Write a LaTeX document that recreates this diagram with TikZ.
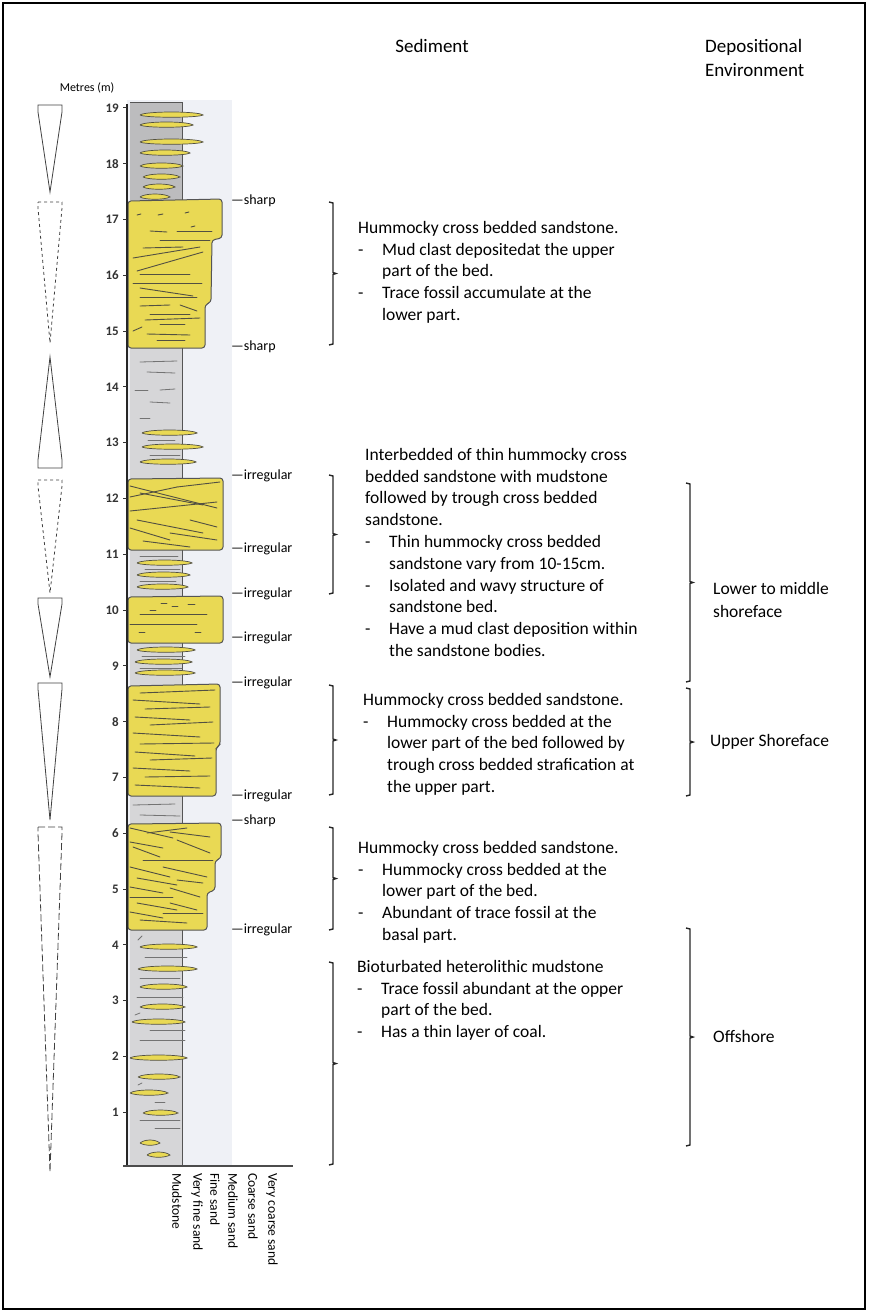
\documentclass[tikz,border=0pt]{standalone}
\usepackage{fontspec}
\setmainfont{Carlito}
\definecolor{sand}{RGB}{233,217,84}
\definecolor{mud}{RGB}{214,214,216}
\definecolor{pale}{RGB}{239,241,246}
\definecolor{rim}{RGB}{85,85,85}
\definecolor{streak}{RGB}{82,80,66}
\newcommand{\bul}{\makebox[24pt][l]{-}}
\newcommand{\ind}{\hspace*{24pt}}

\begin{document}
\begin{tikzpicture}[x=1pt,y=-1pt,
            sandbed/.style={fill=sand, draw=rim, line width=1pt, rounded corners=3pt},
            lamina/.style={draw=streak, line width=0.9pt, line cap=round},
            mudline/.style={draw=black!55, line width=0.8pt, line cap=round},
            lens/.style={fill=sand, draw=streak, line width=0.7pt},
            trend/.style={draw=black!75, line width=0.8pt},
            sidebrace/.style={draw=black!85, line width=1.4pt},
            depthlabel/.style={anchor=east, inner sep=0pt, text=black!80, font=\fontsize{13}{15}\bfseries\selectfont},
            boundlabel/.style={anchor=west, inner sep=0pt, font=\fontsize{14}{16}\selectfont},
            grainlabel/.style={anchor=west, rotate=-90, inner sep=0pt, font=\fontsize{13.5}{16}\selectfont},
            desc/.style={anchor=north west, align=left, inner sep=0pt, font=\fontsize{17.5}{21.8}\selectfont},
            envlabel/.style={anchor=west, align=left, inner sep=0pt, font=\fontsize{17.5}{22.5}\selectfont}
        ]
        \useasboundingbox (0,0) rectangle (868,1312);
        \draw[line width=2pt] (3,3) rectangle (865,1309);

        % headings
        \node[font=\fontsize{19}{24}\selectfont] (sedhead) at (432,46) {Sediment};
        \node[anchor=north west, align=left, inner sep=0pt, font=\fontsize{19}{24}\selectfont] (envhead) at (705,39) {Depositional\\Environment};
        \node[font=\fontsize{12}{14}\selectfont] (metres) at (87,88) {Metres (m)};

        % grain size background and mudstone column
        \fill[pale] (127,100) rectangle (232,1166);
        \fill[mud] (130,102) rectangle (182,1166);
        \fill[mud!88!black] (130,102) rectangle (182,200);
        \draw[rim, line width=0.8pt] (130,102) -- (182,102) -- (182,1166);

        % mud laminae
        \foreach \a/\p/\b/\q in {140/362/177/361, 147/372/175/373, 135/390/148/390, 160/390/175/389,
                150/402/170/403, 140/418/150/418, 148/440/175/440, 150/455/180/455,
                140/556/178/556, 145/569/180/569, 140/581/176/581, 142/656/185/656, 140/668/182/668,
                133/805/175/804, 140/815/180/816, 145/957/187/957, 140/978/180/978, 137/997/183/997,
                150/1030/185/1030, 140/1040/185/1040, 155/1102/165/1102, 140/1120/180/1120,
                155/1128/180/1128, 138/940/142/936, 135/1015/140/1013, 138/1085/142/1083}
            \draw[mudline] (\a,\p) -- (\b,\q);

        % thin sandstone lenses
        \foreach \y/\a/\b in {115/140/203, 125/140/193, 142/140/203, 153/140/190, 166/140/183,
                177/143/180, 187/143/175, 197/140/170, 433/142/197, 447/142/203, 462/140/196,
                563/137/192, 575/137/190, 587/137/188, 650/137/195, 662/135/192, 673/135/195,
                947/140/197, 969/138/197, 987/140/187, 1007/140/185, 1022/132/185, 1058/130/187,
                1077/138/180, 1093/130/168, 1113/143/178, 1143/140/160, 1155/147/170}
            \draw[lens] (\a,\y) .. controls (\a+5,\y-4) and (\b-5,\y-4) .. (\b,\y)
                .. controls (\b-5,\y+3) and (\a+5,\y+3) .. (\a,\y);

        % sandstone beds
        \draw[sandbed] (128,201) -- (222,199) -- (222,238) -- (212,240) -- (211,302) -- (205,305) -- (205,348) -- (128,348) -- cycle;
        \draw[sandbed] (128,479) -- (223,478) -- (223,550) -- (128,550) -- cycle;
        \draw[sandbed] (128,597) -- (223,596) -- (223,643) -- (128,643) -- cycle;
        \draw[sandbed] (128,686) -- (220,684) -- (220,745) -- (216,748) -- (216,796) -- (128,796) -- cycle;
        \draw[sandbed] (128,824) -- (221,823) -- (221,858) -- (215,861) -- (215,890) -- (207,893) -- (207,930) -- (128,930) -- cycle;

        % laminae and clasts inside the beds
        \foreach \a/\p/\b/\q in {137/215/141/214, 158/215/163/214, 185/213/189/212, 191/227/195/226,
                150/231/167/232, 177/231/212/231, 160/240/210/240, 143/248/183/247, 133/258/200/247,
                137/271/203/252, 140/274/190/274, 133/283/202/283, 140/288/193/296, 140/297/197/297,
                140/306/170/305, 180/305/197/311, 150/314/190/314, 145/320/200/318, 160/324/185/324,
                133/331/142/327, 147/334/190/335, 157/340/185/340,
                130/486/217/508, 130/497/177/487, 177/487/220/482, 140/493/203/505, 130/511/217/502,
                137/520/203/533, 130/528/170/540, 170/533/217/540, 143/541/190/547, 190/520/217/527,
                161/603/167/603, 172/606/178/606, 188/604/195/604, 150/610/156/610, 140/614/207/614,
                130/624/197/624, 139/632/145/632, 195/632/201/632,
                140/693/215/690, 133/700/200/704, 145/709/210/707, 135/717/190/720, 150/725/213/722,
                133/733/200/737, 140/744/214/743, 135/752/195/756, 150/760/212/758, 133/768/190/771,
                145/777/210/776, 135/785/200/788,
                130/828/173/838, 147/833/187/828, 170/832/210/837, 130/842/163/848, 177/840/210/853,
                133/847/160/857, 143/860/213/860, 130/867/170/877, 163/867/207/877, 137/878/177/885,
                177/880/203/883, 130/887/163/893, 170/888/200/897, 130/897/173/897, 137/903/177/910,
                170/903/197/910, 130/912/163/918, 163/913/203/913, 140/920/187/923}
            \draw[lamina] (\a,\p) -- (\b,\q);

        % depth axis
        \draw[black!85, line width=1.5pt] (127,104) -- (127,1166);
        \draw[black!70, line width=1.5pt] (123,1166) -- (293,1166);
        \foreach \m in {1,...,19} {
            \draw[black!80, line width=0.8pt] (123,{1168-55.8*\m}) -- (127,{1168-55.8*\m});
            \node[depthlabel] (d\m) at (119,{1168-55.8*\m}) {\m};
        }

        % grain size scale
        \foreach \x/\g [count=\i] in {177/Mudstone, 197/Very fine sand, 215/Fine sand,
                233/Medium sand, 253/Coarse sand, 272/Very coarse sand}
            \node[grainlabel] (g\i) at (\x,1173) {\g};

        % bed contacts
        \foreach \y/\c [count=\i] in {201/sharp, 347/sharp, 476/irregular, 549/irregular, 594/irregular,
                638/irregular, 683/irregular, 796/irregular, 821/sharp, 930/irregular}
            \node[boundlabel] (b\i) at (231,\y) {—\c};

        % transgressive and regressive trends
        \draw[trend] (38,105) -- (62,105) -- (62,112) -- (50,192) -- (38,112) -- cycle;
        \draw[trend, dashed] (38,202) -- (62,202) -- (62,208) -- (50,343) -- (38,208) -- cycle;
        \draw[trend] (50,357) -- (62,460) -- (62,468) -- (38,468) -- (38,460) -- cycle;
        \draw[trend, dashed] (38,480) -- (62,480) -- (62,486) -- (50,593) -- (38,486) -- cycle;
        \draw[trend] (38,598) -- (62,598) -- (62,604) -- (50,677) -- (38,604) -- cycle;
        \draw[trend] (38,683) -- (62,683) -- (62,689) -- (50,820) -- (38,689) -- cycle;
        \draw[trend, dash pattern=on 7pt off 3pt] (38,827) -- (62,827) -- (62,833) -- (50,1172) -- (38,833) -- cycle;

        % brackets
        \foreach \x/\a/\b in {333/202/345, 333/475/594, 333/685/795, 333/827/930, 333/962/1165,
                690/483/682, 690/688/796, 690/928/1146}
            \draw[sidebrace] (\x-4,\a) -- (\x,\a+1) -- (\x,{(\a+\b)/2-1}) -- (\x+3,{(\a+\b)/2})
                -- (\x,{(\a+\b)/2+1}) -- (\x,\b-1) -- (\x-4,\b);

        % sediment descriptions
        \node[desc] (s1) at (358,221) {Hummocky cross bedded sandstone.\\
            \bul Mud clast depositedat the upper\\ \ind part of the bed.\\
            \bul Trace fossil accumulate at the\\ \ind lower part.};
        \node[desc] (s2) at (365,448) {Interbedded of thin hummocky cross\\
            bedded sandstone with mudstone\\ followed by trough cross bedded\\ sandstone.\\
            \bul Thin hummocky cross bedded\\ \ind sandstone vary from 10-15cm.\\
            \bul Isolated and wavy structure of\\ \ind sandstone bed.\\
            \bul Have a mud clast deposition within\\ \ind the sandstone bodies.};
        \node[desc] (s3) at (363,693) {Hummocky cross bedded sandstone.\\
            \bul Hummocky cross bedded at the\\ \ind lower part of the bed followed by\\
            \ind trough cross bedded strafication at\\ \ind the upper part.};
        \node[desc] (s4) at (358,841) {Hummocky cross bedded sandstone.\\
            \bul Hummocky cross bedded at the\\ \ind lower part of the bed.\\
            \bul Abundant of trace fossil at the\\ \ind basal part.};
        \node[desc] (s5) at (357,960) {Bioturbated heterolithic mudstone\\
            \bul Trace fossil abundant at the opper\\ \ind part of the bed.\\
            \bul Has a thin layer of coal.};

        % depositional environments
        \node[envlabel] (lower) at (713,600) {Lower to middle\\shoreface};
        \node[envlabel] (upper) at (710,742) {Upper Shoreface};
        \node[envlabel] (offshore) at (713,1036) {Offshore};
        \end{tikzpicture}
\end{document}
